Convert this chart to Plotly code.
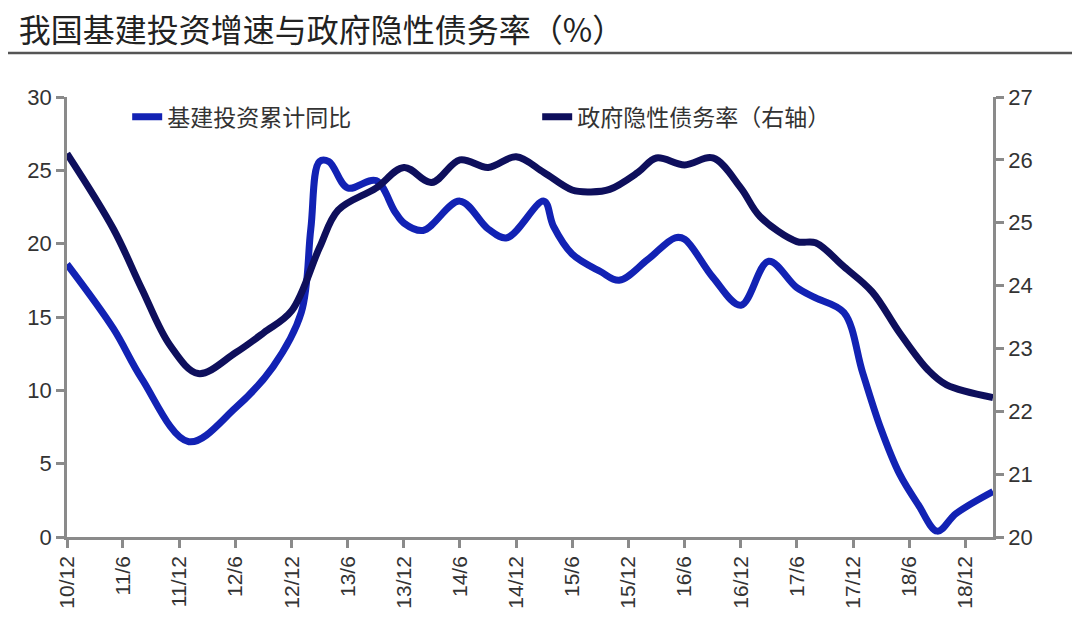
import plotly.graph_objects as go

# 基建投资累计同比 (left axis, %)
infra_months = [
    "2010-12", "2011-05", "2011-08", "2012-01", "2012-06", "2012-10", "2013-01",
    "2013-02", "2013-03", "2013-04", "2013-06", "2013-09", "2013-11", "2013-12",
    "2014-02", "2014-06", "2014-09", "2014-11", "2015-03", "2015-04", "2015-06",
    "2015-09", "2015-11", "2016-02", "2016-05", "2016-06", "2016-09", "2016-12",
    "2017-03", "2017-06", "2017-08", "2017-11", "2018-01", "2018-03", "2018-05",
    "2018-07", "2018-09", "2018-11", "2019-03",
]
infra_values = [
    18.6, 14.2, 10.8, 6.5, 8.8, 11.6, 15.3,
    21.0, 25.6, 25.6, 23.8, 24.3, 22.2, 21.4,
    20.9, 22.9, 21.0, 20.4, 22.9, 21.2, 19.3,
    18.1, 17.5, 18.9, 20.4, 20.3, 17.7, 15.8,
    18.8, 17.0, 16.3, 15.3, 11.2, 7.4, 4.3,
    2.2, 0.4, 1.6, 3.1,
]

# 政府隐性债务率 (right axis, %)
debt_months = [
    "2010-12", "2011-05", "2011-08", "2011-11", "2012-02", "2012-06", "2012-09",
    "2012-12", "2013-03", "2013-05", "2013-09", "2013-12", "2014-03", "2014-06",
    "2014-09", "2014-12", "2015-03", "2015-06", "2015-08", "2015-10", "2016-01",
    "2016-03", "2016-06", "2016-09", "2016-12", "2017-02", "2017-06", "2017-08",
    "2017-11", "2018-02", "2018-05", "2018-08", "2018-10", "2019-03",
]
debt_values = [
    26.1, 24.9, 23.95, 23.05, 22.6, 22.93, 23.25,
    23.6, 24.6, 25.2, 25.55, 25.88, 25.64, 26.0,
    25.88, 26.05, 25.8, 25.52, 25.49, 25.53, 25.8,
    26.03, 25.92, 26.03, 25.55, 25.1, 24.7, 24.68,
    24.3, 23.9, 23.25, 22.66, 22.42, 22.22,
]

tick_dates = [
    "2010-12", "2011-06", "2011-12", "2012-06", "2012-12", "2013-06", "2013-12",
    "2014-06", "2014-12", "2015-06", "2015-12", "2016-06", "2016-12", "2017-06",
    "2017-12", "2018-06", "2018-12",
]
tick_labels = [
    "10/12", "11/6", "11/12", "12/6", "12/12", "13/6", "13/12", "14/6", "14/12",
    "15/6", "15/12", "16/6", "16/12", "17/6", "17/12", "18/6", "18/12",
]

cjk = "Noto Sans CJK SC"
num_font = "Liberation Sans"
axis_col = "#8a8a8a"
text_col = "#333333"

fig = go.Figure()
fig.add_trace(go.Scatter(
    x=infra_months, y=infra_values, name="基建投资累计同比",
    mode="lines", line=dict(color="#1222b4", width=7, shape="spline", smoothing=1.0),
))
fig.add_trace(go.Scatter(
    x=debt_months, y=debt_values, name="政府隐性债务率（右轴）",
    mode="lines", line=dict(color="#0e0f5c", width=7, shape="spline", smoothing=1.0),
    yaxis="y2",
))

# page body adds an 8px offset, so the figure is sized to fit the window
fig.update_layout(
    width=1072,
    height=622,
    margin=dict(l=59, r=87, t=89, b=93),
    paper_bgcolor="white",
    plot_bgcolor="white",
    title=dict(
        text="我国基建投资增速与政府隐性债务率（%）",
        x=0.01, xanchor="left", y=0.963, yanchor="middle",
        font=dict(family=cjk, size=32, color="#222222"),
    ),
    xaxis=dict(
        type="date",
        range=["2010-12-01", "2019-03-01"],
        tickvals=tick_dates,
        ticktext=tick_labels,
        tickangle=-90,
        ticks="outside", ticklen=8, tickwidth=2.5, tickcolor=axis_col,
        showline=True, linecolor=axis_col, linewidth=2.5,
        showgrid=False, zeroline=False,
        tickfont=dict(family=num_font, size=21, color=text_col),
    ),
    yaxis=dict(
        range=[0, 30], dtick=5,
        ticks="outside", ticklen=8, tickwidth=2.5, tickcolor=axis_col,
        showline=True, linecolor=axis_col, linewidth=2.5,
        showgrid=False, zeroline=False,
        tickfont=dict(family=num_font, size=22, color=text_col),
    ),
    yaxis2=dict(
        range=[20, 27], dtick=1, overlaying="y", side="right",
        ticks="outside", ticklen=8, tickwidth=2.5, tickcolor=axis_col,
        showline=True, linecolor=axis_col, linewidth=2.5,
        showgrid=False, zeroline=False,
        tickfont=dict(family=num_font, size=22, color=text_col),
    ),
    legend=dict(
        orientation="h", x=0.065, y=0.955, xanchor="left", yanchor="middle",
        bgcolor="rgba(0,0,0,0)", entrywidth=365, entrywidthmode="pixels",
        font=dict(family=cjk, size=23, color=text_col),
    ),
    shapes=[
        dict(type="line", xref="paper", yref="paper",
             x0=-0.075, x1=1.1, y0=1.1, y1=1.1,
             line=dict(color="#555555", width=2.5)),
    ],
)

fig.write_html("out.html")
